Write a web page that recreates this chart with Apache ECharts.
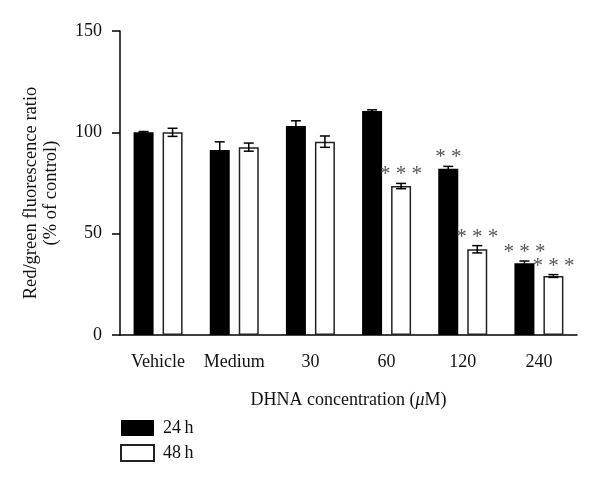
<!DOCTYPE html>
<html>
<head>
<meta charset="utf-8">
<script src="https://cdn.jsdelivr.net/npm/echarts@6/dist/echarts.min.js"></script>
<style>
  html, body { margin: 0; padding: 0; background: #fff; }
  #chart { width: 600px; height: 484px; }
</style>
</head>
<body>
<div id="chart"></div>
<script>
// data
const categories = ['Vehicle', 'Medium', '30', '60', '120', '240'];
const means24 = [100, 91.3, 103.1, 110.5, 82, 35.4];
const err24 = [0.4, 4, 2.6, 0.6, 1.2, 1.1];
const means48 = [100, 92.7, 95.4, 73.5, 42.3, 29.1];
const err48 = [2, 2, 2.8, 1.3, 1.8, 0.7];
const stars24 = ['', '', '', '', '**', '***'];
const stars48 = ['', '', '', '***', '***', '***'];
const yTicks = [0, 50, 100, 150];

const serif = '"Liberation Serif", "DejaVu Serif", serif';
const BAR_W = 20;
const BAR_GAP = 9;
const half = (BAR_W + BAR_GAP) / 2;

function errorSeries(name, means, errs, stars, side) {
  return {
    name: name + ' err',
    type: 'custom',
    z: 5,
    silent: true,
    data: means.map((m, i) => [i, m, errs[i]]),
    renderItem: (params, api) => {
      const i = api.value(0);
      const m = api.value(1);
      const e = api.value(2);
      const s = stars[i];
      const top = api.coord([i, m + e]);
      const bot = api.coord([i, m - e]);
      const x = top[0] + side * half;
      const cap = 5;
      const lineStyle = { stroke: '#000', lineWidth: 1.5 };
      const children = [
        { type: 'line', shape: { x1: x, y1: top[1], x2: x, y2: bot[1] }, style: lineStyle },
        { type: 'line', shape: { x1: x - cap, y1: top[1], x2: x + cap, y2: top[1] }, style: lineStyle },
        { type: 'line', shape: { x1: x - cap, y1: bot[1], x2: x + cap, y2: bot[1] }, style: lineStyle }
      ];
      if (s) {
        children.push({
          type: 'text',
          style: {
            text: s.split('').join(' '),
            x: x,
            y: top[1] + 2,
            align: 'center',
            verticalAlign: 'bottom',
            fill: '#555',
            font: '21px ' + serif
          }
        });
      }
      return { type: 'group', children: children };
    }
  };
}

const chart = echarts.init(document.getElementById('chart'));
chart.setOption({
  animation: false,
  backgroundColor: '#fff',
  textStyle: { fontFamily: serif },
  grid: { left: 120, right: 23, top: 31, bottom: 149 },
  legend: {
    orient: 'vertical',
    left: 115,
    top: 414,
    itemWidth: 33,
    itemHeight: 16,
    itemGap: 7,
    icon: 'rect',
    data: ['24\u2009h', '48\u2009h'],
    textStyle: { fontFamily: serif, fontSize: 18, color: '#111', padding: [0, 0, 0, 4] }
  },
  xAxis: {
    type: 'category',
    data: categories,
    name: '{n|DHNA concentration (}{i|\u03bc}{n|M)}',
    nameLocation: 'middle',
    nameGap: 56,
    nameTextStyle: {
      fontFamily: serif, fontSize: 18, color: '#111',
      rich: {
        n: { fontFamily: serif, fontSize: 18, color: '#111' },
        i: { fontFamily: serif, fontSize: 18, color: '#111', fontStyle: 'italic' }
      }
    },
    axisLine: { lineStyle: { color: '#000', width: 1.5 } },
    axisTick: { alignWithLabel: true, length: 7, lineStyle: { color: '#000', width: 1.5 } },
    axisLabel: { interval: 0, fontFamily: serif, fontSize: 18, color: '#111', margin: 18 }
  },
  yAxis: {
    type: 'value',
    min: 0,
    max: 150,
    interval: 50,
    name: 'Red/green fluorescence ratio\n(% of control)',
    nameLocation: 'middle',
    nameGap: 59,
    nameTextStyle: { fontFamily: serif, fontSize: 18.5, color: '#111', lineHeight: 20, padding: [0, 20, 0, 0] },
    axisLine: { show: true, lineStyle: { color: '#000', width: 1.5 } },
    axisTick: { show: true, length: 8, lineStyle: { color: '#000', width: 1.5 } },
    axisLabel: {
      fontFamily: serif, fontSize: 18, color: '#111', margin: 18,
      formatter: (v) => (yTicks.includes(v) ? String(v) : '')
    },
    splitLine: { show: false }
  },
  series: [
    {
      name: '24\u2009h',
      type: 'bar',
      data: means24,
      barWidth: BAR_W,
      barGap: (BAR_GAP / BAR_W * 100) + '%',
      itemStyle: { color: '#000', borderColor: '#000', borderWidth: 0 }
    },
    {
      name: '48\u2009h',
      type: 'bar',
      data: means48,
      barWidth: BAR_W,
      itemStyle: { color: '#fff', borderColor: '#222', borderWidth: 1.5 }
    },
    errorSeries('24h', means24, err24, stars24, -1),
    errorSeries('48h', means48, err48, stars48, 1)
  ]
});
</script>
</body>
</html>
